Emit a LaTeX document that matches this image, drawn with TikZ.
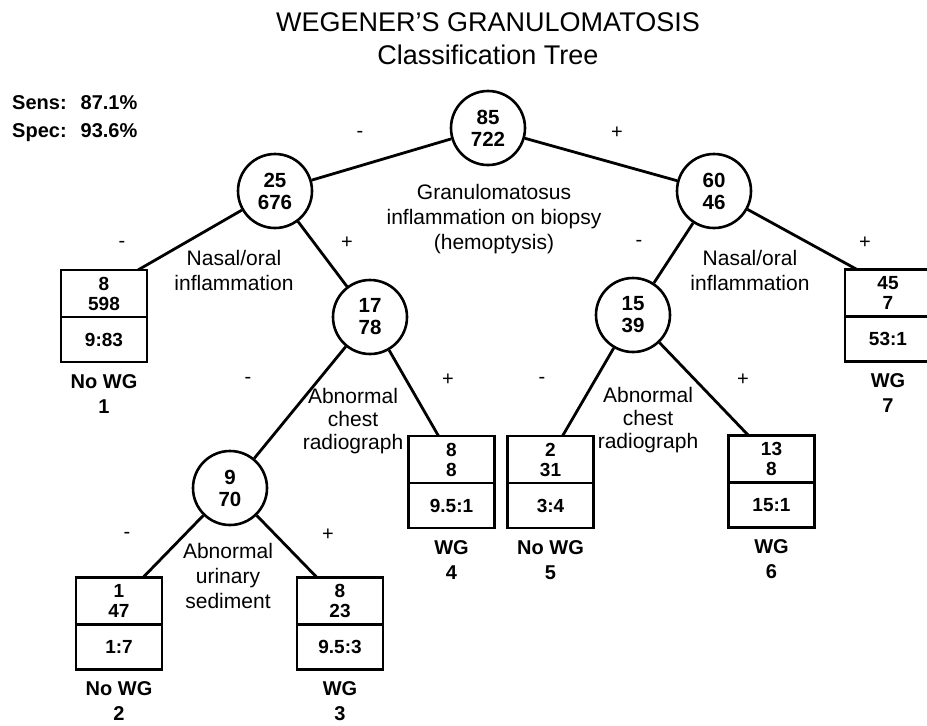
\documentclass[tikz,border=0pt]{standalone}
\usepackage{fontspec}
\setmainfont{Liberation Sans}
\usetikzlibrary{positioning}

\begin{document}
\begin{tikzpicture}[
    x=1pt, y=-1pt,
    every node/.style={align=center},
    split/.style={draw, circle, line width=2.6pt, minimum size=74pt, inner sep=0pt,
      font=\bfseries\fontsize{20.5}{22}\selectfont},
    counts/.style={draw, line width=2.8pt, outer sep=0pt, inner sep=0pt,
      minimum width=86pt, minimum height=47pt,
      font=\bfseries\fontsize{19}{20}\selectfont},
    odds/.style={counts, minimum height=45pt},
    crit/.style={font=\fontsize{21}{25}\selectfont},
    sign/.style={font=\fontsize{20}{20}\selectfont},
    class/.style={inner sep=0pt, font=\bfseries\fontsize{20}{25}\selectfont},
    branch/.style={line width=2.8pt}
  ]
  \useasboundingbox (0,0) rectangle (927,726);

  % Title and accuracy
  \node[font=\fontsize{27}{33}\selectfont] (title) at (488,38.5)
    {WEGENER'S GRANULOMATOSIS\\Classification Tree};
  \node[anchor=west, inner sep=0pt, font=\bfseries\fontsize{20}{28}\selectfont] (stats) at (12,118)
    {\begin{tabular}{@{}l@{\hspace{14pt}}l@{}}Sens: & 87.1\%\\Spec: & 93.6\%\end{tabular}};

  % Splits
  \node[split] (c85) at (488,128) {85\\722};
  \node[split] (c25) at (275,191) {25\\676};
  \node[split] (c60) at (714,191) {60\\46};
  \node[split] (c17) at (370,317) {17\\78};
  \node[split] (c15) at (633,315) {15\\39};
  \node[split] (c9) at (230,488) {9\\70};

  % Terminal boxes
  \node[counts] (n1) at (104,293.5) {8\\598};
  \node[odds, below=0pt of n1] (r1) {9:83};
  \node[counts] (n2) at (119,601) {1\\47};
  \node[odds, below=0pt of n2] (r2) {1:7};
  \node[counts] (n3) at (340,601) {8\\23};
  \node[odds, below=0pt of n3] (r3) {9.5:3};
  \node[counts] (n4) at (451.5,459.5) {8\\8};
  \node[odds, below=0pt of n4] (r4) {9.5:1};
  \node[counts] (n5) at (550.5,459.5) {2\\31};
  \node[odds, below=0pt of n5] (r5) {3:4};
  \node[counts] (n6) at (771.5,459) {13\\8};
  \node[odds, below=0pt of n6] (r6) {15:1};
  \node[counts] (n7) at (888,293) {45\\7};
  \node[odds, below=0pt of n7] (r7) {53:1};

  % Classes
  \node[class, below=12pt of r1] (k1) {No WG\\1};
  \node[class, below=12pt of r2] (k2) {No WG\\2};
  \node[class, below=12pt of r3] (k3) {WG\\3};
  \node[class, below=12pt of r4] (k4) {WG\\4};
  \node[class, below=12pt of r5] (k5) {No WG\\5};
  \node[class, below=12pt of r6] (k6) {WG\\6};
  \node[class, below=12pt of r7] (k7) {WG\\7};

  % Splitting criteria
  \node[crit] (q85) at (494,219) {Granulomatosus\\inflammation on biopsy\\(hemoptysis)};
  \node[crit] (q25) at (234,270) {Nasal/oral\\inflammation};
  \node[crit] (q60) at (750,270) {Nasal/oral\\inflammation};
  \node[crit, font=\fontsize{21}{23}\selectfont] (q17) at (353,421) {Abnormal\\chest\\radiograph};
  \node[crit, font=\fontsize{21}{23}\selectfont] (q15) at (648,420) {Abnormal\\chest\\radiograph};
  \node[crit] (q9) at (228,576) {Abnormal\\urinary\\sediment};

  % Signs
  \node[sign] (m85) at (360,134) {-};
  \node[sign] (p85) at (617,133) {+};
  \node[sign] (m25) at (122,244) {-};
  \node[sign] (p25) at (347,243) {+};
  \node[sign] (m60) at (639,243) {-};
  \node[sign] (p60) at (865,243) {+};
  \node[sign] (m17) at (248,380) {-};
  \node[sign] (p17) at (448,380) {+};
  \node[sign] (m15) at (542,380) {-};
  \node[sign] (p15) at (743,380) {+};
  \node[sign] (m9) at (127,535) {-};
  \node[sign] (p9) at (328,535) {+};

  % Branches
  \draw[branch] (c85) -- (c25);
  \draw[branch] (c85) -- (c60);
  \draw[branch] (c25) -- ([xshift=34pt]n1.north);
  \draw[branch] (c25) -- (c17);
  \draw[branch] (c17) -- (c9);
  \draw[branch] (c17) -- ([xshift=-13pt]n4.north);
  \draw[branch] (c9) -- ([xshift=24pt]n2.north);
  \draw[branch] (c9) -- ([xshift=-23pt]n3.north);
  \draw[branch] (c60) -- (c15);
  \draw[branch] (c60) -- ([xshift=-31pt]n7.north);
  \draw[branch] (c15) -- ([xshift=12pt]n5.north);
  \draw[branch] (c15) -- ([xshift=-23pt]n6.north);
\end{tikzpicture}
\end{document}
